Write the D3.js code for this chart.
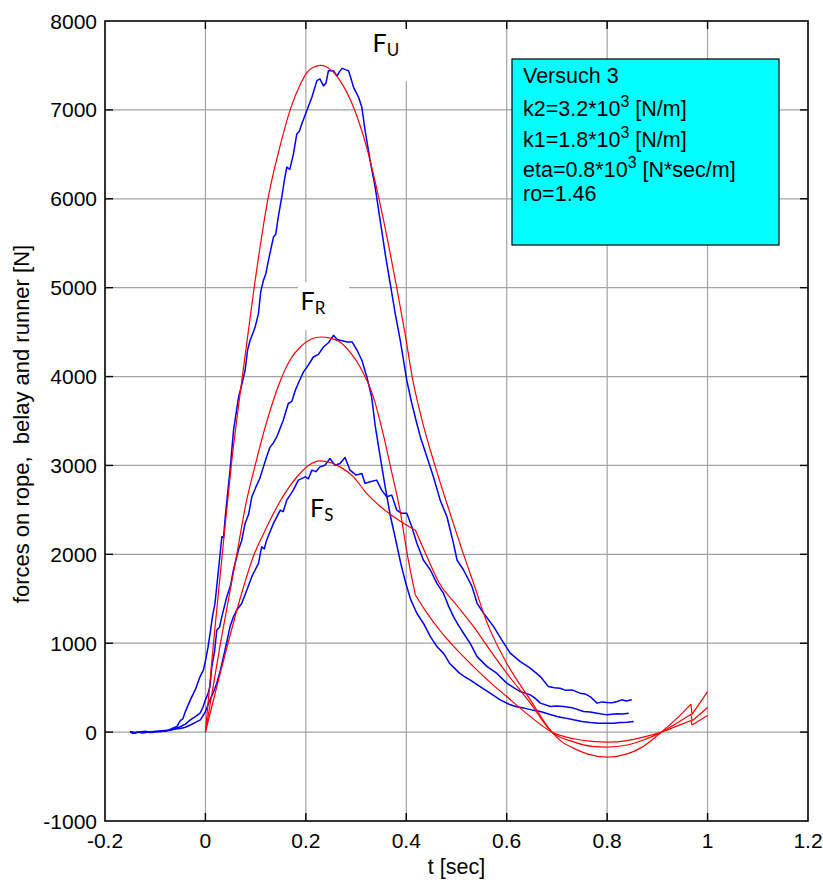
<!DOCTYPE html>
<html>
<head>
<meta charset="utf-8">
<script src="https://cdn.jsdelivr.net/npm/d3@7"></script>
<style>
	body { margin: 0; background: #fff; }
	svg { display: block; }
</style>
</head>
<body>
<div id="chartDiv"></div>
<script>
;(function() {

	var margin = { top: 21, right: 15, bottom: 59, left: 105 };
	var width = 823;
	var height = 880;

	var tTicks = [-0.2, 0, 0.2, 0.4, 0.6, 0.8, 1, 1.2];
	var fTicks = [-1000, 0, 1000, 2000, 3000, 4000, 5000, 6000, 7000, 8000];
	var xAxisLabelHeader = "t [sec]";
	var yAxisLabelHeader = "forces on rope,  belay and runner [N]";

	// measured forces [t, F]
	var blueU = [[-0.15,10],[-0.145,-15],[-0.135,0],[-0.125,-10],[-0.115,5],[-0.105,-5],[-0.095,10],[-0.085,15],[-0.075,20],[-0.065,45],[-0.057,63],[-0.05,130],[-0.045,150],[-0.04,230],[-0.03,363],[-0.02,480],[-0.0106,625],[-0.004,700],[0,800],[0.005,950],[0.009,1100],[0.014,1300],[0.019,1449],[0.026,1824],[0.0327,2198],[0.036,2190],[0.04,2450],[0.049,2947],[0.056,3397],[0.066,3771],[0.072,3900],[0.079,4071],[0.084,4300],[0.089,4408],[0.094,4480],[0.099,4557],[0.1056,4708],[0.11,4950],[0.1155,5082],[0.12,5150],[0.1255,5307],[0.1355,5569],[0.14,5600],[0.145,5793],[0.152,6018],[0.157,6200],[0.162,6355],[0.168,6330],[0.1753,6506],[0.182,6730],[0.187,6760],[0.192,6843],[0.202,6992],[0.212,7142],[0.222,7329],[0.228,7348],[0.235,7270],[0.24,7300],[0.245,7441],[0.25,7440],[0.255,7441],[0.262,7380],[0.267,7430],[0.272,7467],[0.28,7450],[0.285,7441],[0.29,7350],[0.295,7254],[0.305,7142],[0.3115,7029],[0.318,6767],[0.328,6430],[0.338,6130],[0.348,5756],[0.358,5382],[0.368,5045],[0.378,4708],[0.388,4408],[0.401,3958],[0.411,3697],[0.421,3472],[0.428,3321],[0.441,3097],[0.454,2872],[0.4675,2610],[0.481,2423],[0.494,2124],[0.501,1936],[0.514,1824],[0.531,1636],[0.541,1449],[0.554,1337],[0.574,1187],[0.59,1037],[0.607,888],[0.627,793],[0.647,719],[0.667,625],[0.683,512],[0.695,500],[0.706,494],[0.718,470],[0.73,475],[0.746,438],[0.756,430],[0.766,400],[0.78,326],[0.79,340],[0.8,333],[0.81,330],[0.82,344],[0.829,363],[0.838,350],[0.849,363]];
	var blueR = [[-0.15,0],[-0.14,-10],[-0.13,5],[-0.12,-5],[-0.11,0],[-0.1,10],[-0.09,5],[-0.08,15],[-0.07,20],[-0.06,40],[-0.05,60],[-0.04,90],[-0.03,138],[-0.02,175],[-0.0106,213],[-0.005,280],[0,363],[0.005,430],[0.009,512],[0.0127,737],[0.018,900],[0.0227,1149],[0.028,1180],[0.0327,1299],[0.0426,1524],[0.05,1650],[0.0558,1824],[0.0657,2048],[0.072,2150],[0.079,2348],[0.086,2450],[0.0924,2647],[0.1,2750],[0.108,2850],[0.1155,2984],[0.122,3100],[0.129,3209],[0.135,3250],[0.142,3321],[0.155,3509],[0.165,3697],[0.172,3720],[0.179,3846],[0.187,3950],[0.195,4050],[0.205,4130],[0.215,4220],[0.225,4250],[0.235,4333],[0.245,4380],[0.255,4464],[0.262,4420],[0.268,4408],[0.275,4400],[0.282,4389],[0.292,4389],[0.302,4296],[0.3115,4183],[0.3215,3996],[0.331,3771],[0.338,3450],[0.348,3100],[0.358,2760],[0.368,2440],[0.379,2161],[0.389,1899],[0.399,1674],[0.409,1487],[0.421,1337],[0.434,1225],[0.448,1074],[0.461,962],[0.475,880],[0.486,775],[0.496,720],[0.506,663],[0.517,620],[0.527,588],[0.547,512],[0.567,438],[0.587,363],[0.607,307],[0.62,285],[0.634,270],[0.65,250],[0.667,232],[0.685,200],[0.7,175],[0.715,160],[0.733,138],[0.75,120],[0.766,108],[0.783,100],[0.8,101],[0.813,100],[0.826,108],[0.84,110],[0.853,119]];
	var blueS = [[-0.15,5],[-0.14,-5],[-0.13,0],[-0.12,10],[-0.11,-5],[-0.1,5],[-0.09,10],[-0.08,10],[-0.07,25],[-0.06,35],[-0.05,40],[-0.04,55],[-0.03,80],[-0.02,110],[-0.01,138],[0,231],[0.009,363],[0.016,450],[0.0226,550],[0.03,700],[0.036,850],[0.042,1000],[0.049,1187],[0.056,1300],[0.0625,1374],[0.0725,1449],[0.0825,1599],[0.0924,1749],[0.099,1824],[0.1056,1899],[0.112,2085],[0.117,2060],[0.122,2161],[0.1355,2348],[0.149,2498],[0.155,2480],[0.162,2610],[0.175,2722],[0.185,2835],[0.199,2872],[0.205,2850],[0.212,2947],[0.22,2930],[0.228,2984],[0.238,3003],[0.248,3078],[0.258,3003],[0.268,3022],[0.278,3090],[0.288,2947],[0.3,2891],[0.3115,2910],[0.318,2798],[0.328,2816],[0.341,2835],[0.351,2722],[0.361,2647],[0.371,2666],[0.381,2498],[0.391,2461],[0.401,2461],[0.411,2310],[0.421,2124],[0.434,1936],[0.448,1824],[0.461,1674],[0.474,1562],[0.484,1420],[0.494,1299],[0.504,1200],[0.514,1112],[0.527,1000],[0.541,849],[0.561,737],[0.58,663],[0.6,551],[0.614,500],[0.627,456],[0.647,419],[0.657,380],[0.667,326],[0.687,288],[0.7,295],[0.713,288],[0.733,270],[0.753,232],[0.766,225],[0.78,213],[0.8,194],[0.82,206],[0.83,205],[0.843,213]];

	// model forces [t, F]
	var redU = [[0,0],[0.016,1000],[0.0335,2000],[0.0515,3000],[0.0735,4000],[0.097,5000],[0.1245,6000],[0.149,6600],[0.1687,7000],[0.19,7300],[0.202,7420],[0.215,7480],[0.23,7501],[0.25,7450],[0.268,7329],[0.295,7029],[0.32,6600],[0.346,5990],[0.364,5500],[0.381,5000],[0.397,4500],[0.413,3960],[0.428,3584],[0.457,3000],[0.485,2500],[0.514,2000],[0.534,1674],[0.56,1243],[0.6,775],[0.647,363],[0.69,0],[0.71,-110],[0.733,-180],[0.76,-245],[0.8,-281],[0.84,-245],[0.866,-180],[0.89,-85],[0.908,0],[0.94,160],[0.967,315],[0.969,200],[1.0,456]];
	var redR = [[0,0],[0.03,1000],[0.0625,2000],[0.08,2550],[0.099,3000],[0.12,3450],[0.149,3950],[0.17,4200],[0.189,4333],[0.21,4420],[0.23,4445],[0.25,4430],[0.268,4389],[0.29,4260],[0.308,4108],[0.335,3760],[0.355,3330],[0.37,2950],[0.388,2480],[0.402,2000],[0.418,1543],[0.44,1350],[0.466,1149],[0.5,930],[0.534,737],[0.567,560],[0.6,400],[0.647,175],[0.69,0],[0.733,-75],[0.77,-105],[0.8,-112],[0.84,-95],[0.87,-60],[0.908,0],[0.94,70],[0.967,130],[0.969,80],[1.0,187]];
	var redS = [[0,0],[0.045,1000],[0.07,1520],[0.097,2000],[0.1155,2230],[0.149,2600],[0.182,2870],[0.205,3000],[0.228,3052],[0.25,3030],[0.268,2984],[0.295,2872],[0.321,2685],[0.349,2535],[0.375,2423],[0.395,2348],[0.418,2273],[0.44,1990],[0.466,1674],[0.5,1430],[0.534,1187],[0.567,920],[0.6,663],[0.647,326],[0.69,0],[0.733,-110],[0.77,-160],[0.8,-169],[0.84,-145],[0.87,-95],[0.908,0],[0.94,105],[0.967,200],[0.969,125],[1.0,276]];
	var modelBreaks = [0.418, 0.967, 0.969];

	var measured = [blueU, blueR, blueS];
	var model = [redU, redR, redS];

	var chart;
	var chartWidth = width - margin.left - margin.right;
	var chartHeight = height - margin.top - margin.bottom;

	chart = d3.select("#chartDiv").append("svg")
		.attr("width", width)
		.attr("height", height);

	chart.append("rect").attr("width", width).attr("height", height).style("fill", "#fff");

	chart.plotArea = chart.append("g")
		.attr("transform", "translate(" + margin.left + "," + margin.top + ")");

	chart.xScale = d3.scaleLinear().domain([-0.2, 1.2]).range([0, chartWidth]);
	chart.yScale = d3.scaleLinear().domain([-1000, 8000]).range([chartHeight, 0]);

	// grid
	chart.plotArea.selectAll(".vgrid").data(tTicks.slice(1, -1))
		.enter().append("line")
		.attr("class", "vgrid")
		.attr("x1", function(d) { return chart.xScale(d); })
		.attr("x2", function(d) { return chart.xScale(d); })
		.attr("y1", 0).attr("y2", chartHeight)
		.style("stroke", "#a3a3a3").style("stroke-width", 1.2);

	chart.plotArea.selectAll(".hgrid").data(fTicks.slice(1, -1))
		.enter().append("line")
		.attr("class", "hgrid")
		.attr("x1", 0).attr("x2", chartWidth)
		.attr("y1", function(d) { return chart.yScale(d); })
		.attr("y2", function(d) { return chart.yScale(d); })
		.style("stroke", "#a3a3a3").style("stroke-width", 1.2);

	// white boxes behind the force labels
	var labelBoxes = [
		{ t: 0.3295, f: 7930, w: 51, h: 54 },
		{ t: 0.1843, f: 5062, w: 51, h: 48 },
		{ t: 0.2043, f: 2800, w: 51, h: 48 }
	];
	chart.plotArea.selectAll(".lblbox").data(labelBoxes)
		.enter().append("rect")
		.attr("x", function(d) { return chart.xScale(d.t); })
		.attr("y", function(d) { return chart.yScale(d.f); })
		.attr("width", function(d) { return d.w; })
		.attr("height", function(d) { return d.h; })
		.style("fill", "#fff");

	var line = d3.line()
		.x(function(d) { return chart.xScale(d[0]); })
		.y(function(d) { return chart.yScale(d[1]); });

	var smoothLine = d3.line()
		.curve(d3.curveMonotoneX)
		.x(function(d) { return chart.xScale(d[0]); })
		.y(function(d) { return chart.yScale(d[1]); });

	// split model curves at their kinks, smooth between
	function pieces(series) {
		var out = [], cur = [];
		series.forEach(function(p) {
			cur.push(p);
			if (modelBreaks.indexOf(p[0]) >= 0) { out.push(cur); cur = [p]; }
		});
		if (cur.length > 1) out.push(cur);
		return out;
	}

	chart.plotArea.selectAll(".measured").data(measured)
		.enter().append("path")
		.attr("class", "measured")
		.attr("d", line)
		.style("fill", "none")
		.style("stroke", "#0000ff")
		.style("stroke-width", 1.5)
		.style("stroke-linejoin", "round");

	chart.plotArea.selectAll(".model").data(model)
		.enter().append("path")
		.attr("class", "model")
		.attr("d", function(s) { return pieces(s).map(function(p) { return smoothLine(p); }).join(""); })
		.style("fill", "none")
		.style("stroke", "#ff0000")
		.style("stroke-width", 1.2);

	// axes box with inward ticks
	chart.plotArea.append("rect")
		.attr("width", chartWidth).attr("height", chartHeight)
		.style("fill", "none").style("stroke", "#000").style("stroke-width", 1.6);

	var tickLen = 8;
	[0, chartHeight].forEach(function(yy, i) {
		chart.plotArea.selectAll(".xt" + i).data(tTicks.slice(1, -1))
			.enter().append("line")
			.attr("x1", function(d) { return chart.xScale(d); })
			.attr("x2", function(d) { return chart.xScale(d); })
			.attr("y1", yy).attr("y2", i === 0 ? tickLen : yy - tickLen)
			.style("stroke", "#000").style("stroke-width", 1.4);
	});
	[0, chartWidth].forEach(function(xx, i) {
		chart.plotArea.selectAll(".yt" + i).data(fTicks.slice(1, -1))
			.enter().append("line")
			.attr("y1", function(d) { return chart.yScale(d); })
			.attr("y2", function(d) { return chart.yScale(d); })
			.attr("x1", xx).attr("x2", i === 0 ? tickLen : xx - tickLen)
			.style("stroke", "#000").style("stroke-width", 1.4);
	});

	// tick labels
	chart.plotArea.selectAll(".xlab").data(tTicks)
		.enter().append("text")
		.attr("x", function(d) { return chart.xScale(d); })
		.attr("y", chartHeight + 27)
		.attr("text-anchor", "middle")
		.style("font-family", "'Liberation Sans', Arial, sans-serif")
		.style("font-size", "21px")
		.text(function(d) { return String(d); });

	chart.plotArea.selectAll(".ylab").data(fTicks)
		.enter().append("text")
		.attr("x", -8)
		.attr("y", function(d) { return chart.yScale(d) + 7.5; })
		.attr("text-anchor", "end")
		.style("font-family", "'Liberation Sans', Arial, sans-serif")
		.style("font-size", "21px")
		.text(function(d) { return String(d); });

	// axis headers
	chart.append("text")
		.attr("text-anchor", "middle")
		.attr("x", margin.left + chart.xScale(0.5))
		.attr("y", 874)
		.style("font-family", "'Liberation Sans', Arial, sans-serif")
		.style("font-size", "21.5px")
		.text(xAxisLabelHeader);

	chart.append("text")
		.attr("text-anchor", "middle")
		.attr("transform", "translate(28.5," + 424 + ") rotate(-90)")
		.style("font-family", "'Liberation Sans', Arial, sans-serif")
		.style("font-size", "22px")
		.style("white-space", "pre")
		.text(yAxisLabelHeader);

	// force labels
	var forceLabels = [
		{ sub: "U", x: 372.5, y: 52.3 },
		{ sub: "R", x: 300.5, y: 310 },
		{ sub: "S", x: 310, y: 516.7 }
	];
	forceLabels.forEach(function(l) {
		var tx = chart.append("text")
			.attr("x", l.x).attr("y", l.y)
			.style("font-family", "Lato, 'Open Sans', sans-serif")
			.style("font-size", "25px");
		tx.append("tspan").text("F");
		tx.append("tspan").attr("dy", 4).style("font-size", "17px").text(l.sub);
	});

	// parameter box
	var box = chart.append("g");
	box.append("rect")
		.attr("x", 512).attr("y", 59).attr("width", 267).attr("height", 186)
		.style("fill", "#00ffff").style("stroke", "#000").style("stroke-width", 1.2);

	var infoLines = [
		{ main: "Versuch 3", sup: null, rest: null, y: 83 },
		{ main: "k2=3.2*10", sup: "3", rest: " [N/m]", y: 115.5 },
		{ main: "k1=1.8*10", sup: "3", rest: " [N/m]", y: 147 },
		{ main: "eta=0.8*10", sup: "3", rest: " [N*sec/m]", y: 177 },
		{ main: "ro=1.46", sup: null, rest: null, y: 201 }
	];
	infoLines.forEach(function(l) {
		var tx = box.append("text")
			.attr("x", 523).attr("y", l.y)
			.style("font-family", "'Liberation Sans', Arial, sans-serif")
			.style("font-size", "21.5px")
			.style("white-space", "pre");
		tx.append("tspan").text(l.main);
		if (l.sup) {
			tx.append("tspan").attr("dy", -9).style("font-size", "16px").text(l.sup);
			tx.append("tspan").attr("dy", 9).text(l.rest);
		}
	});

})();
</script>
</body>
</html>
